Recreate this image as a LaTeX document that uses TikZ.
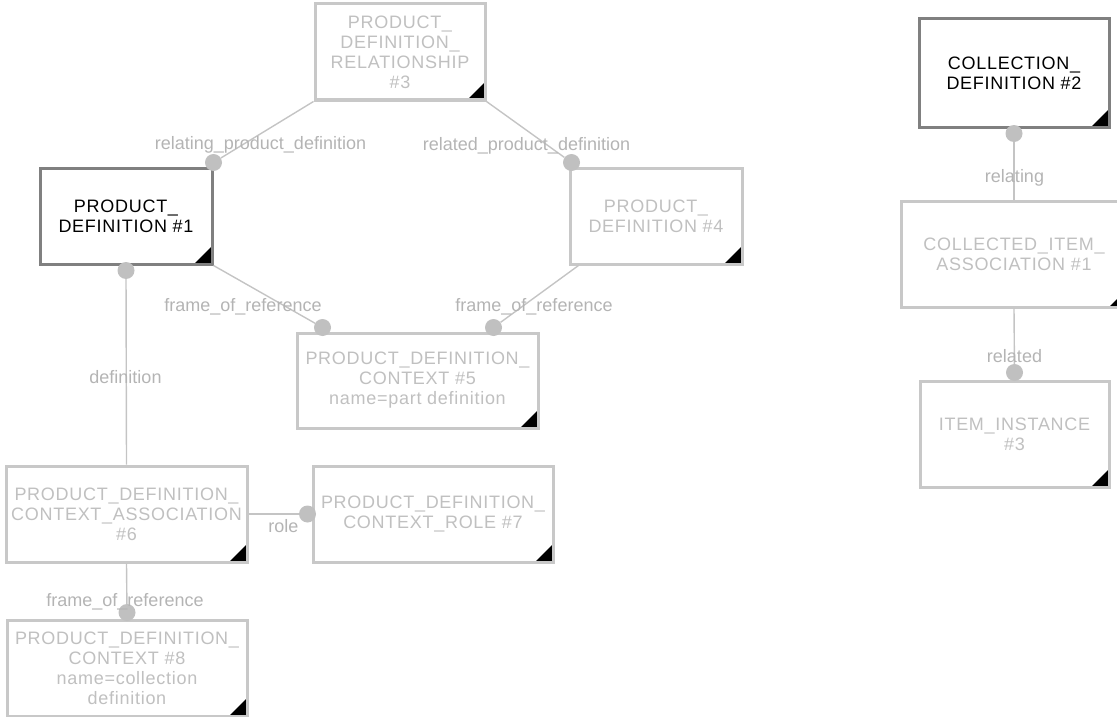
\documentclass[tikz,border=0pt]{standalone}
\usepackage{fontspec}
\newfontfamily\boxfont[LetterSpace=4]{Liberation Sans}
\newfontfamily\attrfont{Liberation Sans}
\definecolor{boxgray}{RGB}{200,200,200}
\definecolor{rootgray}{RGB}{128,128,128}
\definecolor{textgray}{RGB}{192,192,192}
\definecolor{labelgray}{RGB}{180,180,180}
\definecolor{linegray}{RGB}{196,196,196}
\definecolor{dotgray}{RGB}{192,192,192}
\tikzstyle{entity}=[rectangle,draw=boxgray,line width=3pt,fill=white,text=textgray,align=center,inner sep=0pt,
    font={\boxfont\fontsize{18pt}{20pt}\selectfont},
    path picture={\fill[black] (path picture bounding box.south east) -- ++(-18pt,0pt) -- ++(18pt,18pt) -- cycle;}]
\tikzstyle{rootentity}=[entity,draw=rootgray,text=black]
\tikzstyle{port}=[circle,fill=dotgray,minimum size=17pt,inner sep=0pt]
\tikzstyle{link}=[draw=linegray,line width=1.4pt]
\tikzstyle{attr}=[font={\attrfont\fontsize{18pt}{20pt}\selectfont},text=labelgray,inner sep=0pt]

\begin{document}
\begin{tikzpicture}[x=1pt,y=-1pt]
    \useasboundingbox (0,0) rectangle (1117,717);
    \clip (0,0) rectangle (1117,717);
    % First we draw the entities
    \node[rootentity,minimum width=172pt,minimum height=96pt] (pd1) at (126,216) {PRODUCT\_\\DEFINITION \#1};
    \node[rootentity,minimum width=190pt,minimum height=108pt] (cd2) at (1014,73) {COLLECTION\_\\DEFINITION \#2};

    \foreach \pos/\name/\bw/\bh/\txt in {{(400,52)/pdr3/170/96/{PRODUCT\_\\DEFINITION\_\\RELATIONSHIP\\\#3}},
            {(656,216)/pd4/172/96/{PRODUCT\_\\DEFINITION \#4}},
            {(417.5,380.5)/pdc5/241/95/{PRODUCT\_DEFINITION\_\\CONTEXT \#5\\name=part definition}},
            {(126.5,514)/pdca6/241/96/{PRODUCT\_DEFINITION\_\\CONTEXT\_ASSOCIATION\\\#6}},
            {(433,514)/pdcr7/240/96/{PRODUCT\_DEFINITION\_\\CONTEXT\_ROLE \#7}},
            {(127,668)/pdc8/240/96/{PRODUCT\_DEFINITION\_\\CONTEXT \#8\\name=collection\\definition}},
            {(1014,254)/cia1/226/106/{COLLECTED\_ITEM\_\\ASSOCIATION \#1}},
            {(1014.5,434)/ii3/189/106/{ITEM\_INSTANCE\\\#3}}}
        \node[entity,minimum width=\bw pt,minimum height=\bh pt] (\name) at \pos {\txt};

    % Then the attribute ends
    \node[port] (pd1-in) at ([yshift=4pt]pd1.north east) {};
    \node[port] (pd4-in) at ([xshift=3pt,yshift=4pt]pd4.north west) {};
    \node[port] (pdc5-a) at ([xshift=27pt,yshift=4pt]pdc5.north west) {};
    \node[port] (pdc5-b) at ([xshift=-46pt,yshift=4pt]pdc5.north east) {};
    \node[port] (pd1-def) at ([yshift=-5pt]pd1.south) {};
    \node[port] (pdcr7-in) at ([xshift=-4pt]pdcr7.west) {};
    \node[port] (pdc8-in) at ([yshift=6pt]pdc8.north) {};
    \node[port] (cd2-in) at ([yshift=-5pt]cd2.south) {};
    \node[port] (ii3-in) at ([yshift=7pt]ii3.north) {};
    \coordinate (pd4-out) at ([xshift=10pt]pd4.south west);

    % Connect entities with attributes
    \foreach \source/\dest in {pdr3.south west/pd1-in, pdr3.south east/pd4-in, pd1.south east/pdc5-a,
            pd4-out/pdc5-b, pdca6.north/pd1-def, pdca6.east/pdcr7-in,
            pdca6.south/pdc8-in, cia1.north/cd2-in, cia1.south/ii3-in}
        \path[link] (\source) -- (\dest);

    % And the attribute names
    \foreach \pos/\name/\txt in {(260.5,145)/l-rpd/relating\_product\_definition,
            (526.5,146)/l-dpd/related\_product\_definition,
            (243,307)/l-for1/frame\_of\_reference, (534,307)/l-for4/frame\_of\_reference,
            (125.5,377)/l-def/definition, (283.5,526)/l-role/role,
            (125,602)/l-for6/frame\_of\_reference, (1014.5,178)/l-relating/relating,
            (1014.5,356)/l-related/related}
        \node[attr] (\name) at \pos {\txt};
\end{tikzpicture}
\end{document}
